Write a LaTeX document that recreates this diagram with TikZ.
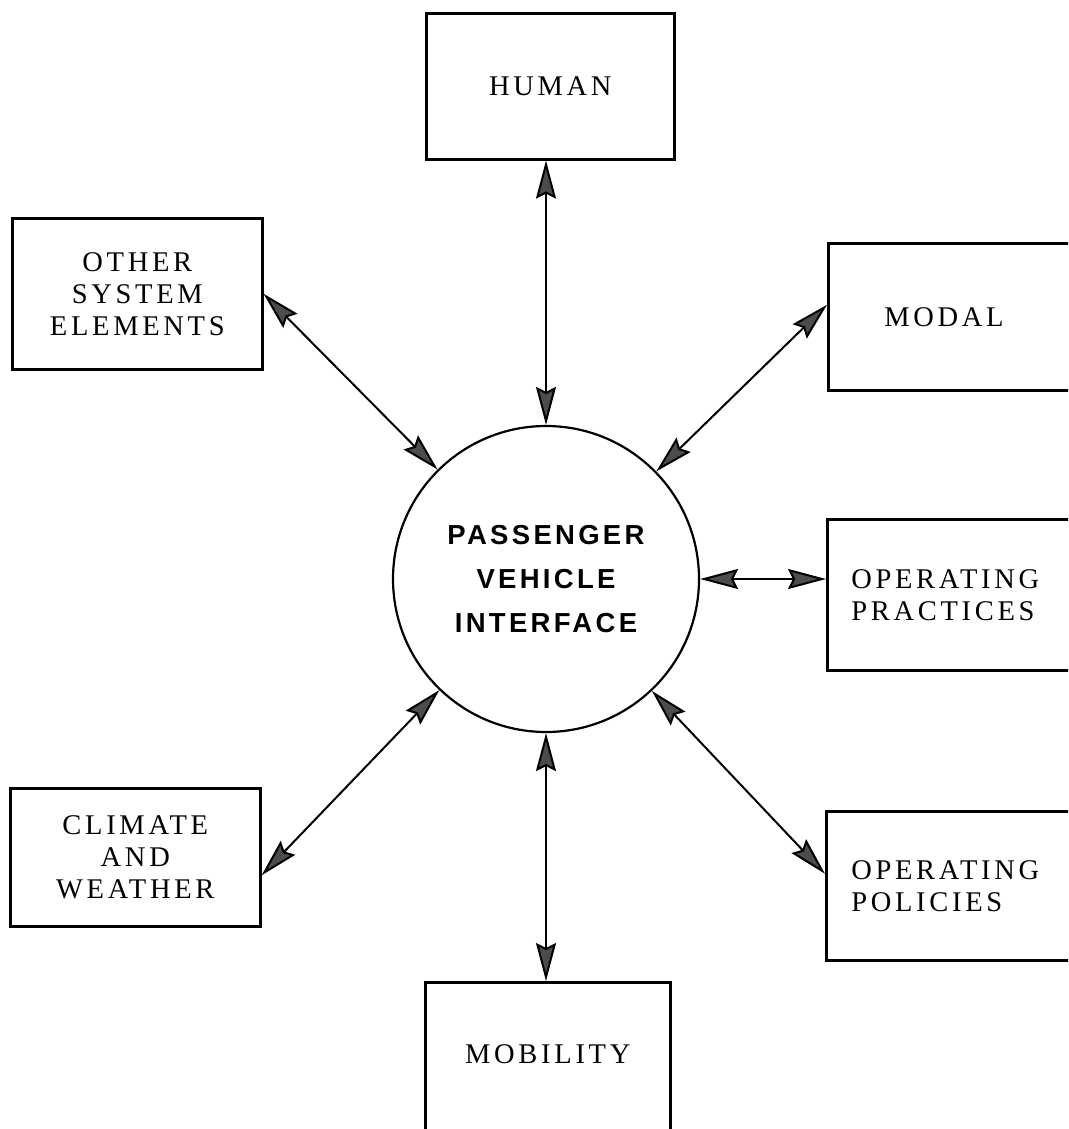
\documentclass[tikz,border=0pt]{standalone}
\usepackage{fontspec}
\setmainfont{Liberation Serif}
\newfontfamily\boxfont[LetterSpace=13]{Liberation Serif}
\newfontfamily\circfont[LetterSpace=12]{Liberation Sans}
\usetikzlibrary{arrows.meta}
\begin{document}
\begin{tikzpicture}[x=1pt,y=-1pt,
  box/.style={draw, line width=2.6pt, rectangle, inner ysep=0pt, anchor=north west,
    font=\boxfont\fontsize{28.5}{32}\selectfont},
  cbox/.style={box, align=center, inner xsep=0pt},
  rbox/.style={box, align=left},
  hub/.style={circle, draw, line width=2.2pt, inner sep=0pt, minimum size=306pt, align=center,
    font=\circfont\bfseries\fontsize{27.5}{44}\selectfont},
  head/.style={Stealth[length=38pt,width=20pt,inset=5pt,fill=black!70]},
  conn/.style={line width=2pt, {Stealth[length=38pt,width=20pt,inset=5pt,fill=black!70]}-{Stealth[length=38pt,width=20pt,inset=5pt,fill=black!70]}}
]
\useasboundingbox (0,0) rectangle (1068,1129);
\fill[white] (0,0) rectangle (1068,1129);
\clip (0,0) rectangle (1068,1129);

\node[hub] (c) at (546,579) {PASSENGER\\VEHICLE\\INTERFACE};

\node[cbox, minimum width=248pt, minimum height=146pt] (human) at (425,12) {HUMAN};
\node[cbox, minimum width=250pt, minimum height=151pt] (other) at (11,217) {OTHER\\SYSTEM\\ELEMENTS};
\node[rbox, inner xsep=56pt, text width=160pt, minimum height=147pt] (modal) at (827,242) {MODAL};
\node[rbox, inner xsep=24pt, text width=215pt, minimum height=151pt] (practices) at (826,518) {OPERATING\\PRACTICES};
\node[cbox, minimum width=250pt, minimum height=138pt] (climate) at (9,787) {CLIMATE\\AND\\WEATHER};
\node[rbox, inner xsep=25pt, text width=215pt, minimum height=149pt] (policies) at (825,810) {OPERATING\\POLICIES};
\node[box, inner xsep=0pt, minimum width=245pt, text height=81pt, text depth=120pt] (mobility) at (424,981) {MOBILITY};

\draw[conn] (c.north |- human.south) -- (c.north);
\draw[conn] (other.east) -- (c);
\draw[conn] ([yshift=12pt]modal.west) -- (c);
\draw[conn] (c.east) -- (c.east -| practices.west);
\draw[conn] (c) -- ([yshift=12pt]policies.west);
\draw[conn] (c) -- ([yshift=-18pt]climate.east);
\draw[conn] (c.south) -- (c.south |- mobility.north);
\end{tikzpicture}
\end{document}
